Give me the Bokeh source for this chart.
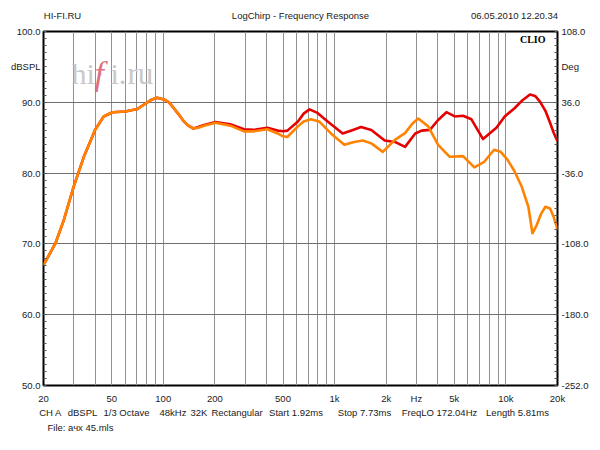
from bokeh.plotting import figure
from bokeh.models import FixedTicker, LinearAxis, LogAxis, Range1d, Label, Spacer
from bokeh.layouts import column, row
from bokeh.embed import file_html
from bokeh.resources import INLINE

# ---------------- data ----------------
freq_orange = [20, 23.5, 26.3, 30, 34.4, 40, 44.9, 50.6, 60, 70.6, 80.8, 86, 92, 101, 108, 115, 123, 132, 140, 150,
               160, 173, 202, 246, 296, 338, 405, 465, 500, 530, 611, 660, 726, 812, 952, 1140, 1300, 1460, 1638,
               1912, 2248, 2578, 2850, 3080, 3520, 4020, 4700, 5625, 6540, 7470, 8530, 9320, 10200,
               11200, 12360, 13520, 14280, 15150, 16000, 17000, 18100, 19000, 20000]
spl_orange = [67.0, 70.1, 73.4, 78.1, 82.3, 86.1, 88.0, 88.6, 88.7, 89.05, 90.0, 90.4, 90.65, 90.4, 90.0, 89.2, 88.3, 87.3, 86.7, 86.3,
              86.4, 86.7, 87.1, 86.7, 85.9, 85.9, 86.2, 85.6, 85.2, 85.1, 86.6, 87.3, 87.6, 87.3, 85.6, 84.0, 84.4, 84.6, 84.2,
              83.0, 84.7, 85.65, 87.0, 87.7, 86.6, 84.0, 82.3, 82.4, 80.8, 81.6, 83.3, 83.0, 81.9,
              80.3, 78.1, 75.25, 71.5, 72.7, 74.2, 75.25, 75.0, 73.8, 72.0]

freq_red = [20, 23.5, 26.3, 30, 34.4, 40, 44.9, 50.6, 60, 70.6, 80.8, 86, 92, 101, 108, 115, 123, 132, 140, 150,
            160, 173, 202, 246, 296, 338, 405, 465, 500, 530, 611, 660, 714, 795, 911, 1115, 1280, 1427, 1638,
            1962, 2248, 2578, 2956, 3220, 3600, 4020, 4496, 5030, 5625, 6290, 7350, 8800, 9840,
            11270, 12500, 13820, 14800, 15800, 17000, 18100, 19000, 20000]
spl_red = [67.0, 70.1, 73.4, 78.1, 82.3, 86.1, 88.0, 88.6, 88.7, 89.05, 90.0, 90.4, 90.65, 90.4, 90.0, 89.2, 88.3, 87.3, 86.7, 86.3,
           86.5, 86.8, 87.2, 86.9, 86.2, 86.1, 86.4, 86.0, 85.9, 86.0, 87.3, 88.4, 89.0, 88.5, 87.3, 85.6, 86.1, 86.5, 86.1,
           84.6, 84.4, 83.7, 85.6, 86.0, 86.1, 87.5, 88.6, 88.0, 88.1, 87.6, 84.8, 86.4, 88.0,
           89.2, 90.3, 91.1, 90.9, 90.1, 88.8, 87.1, 85.7, 84.5]

x_ticks = [20, 50, 100, 200, 500, 1000, 2000, 3000, 5000, 10000, 20000]
x_tick_labels = ["20", "50", "100", "200", "500", "1k", "2k", "Hz", "5k", "10k", "20k"]
x_grid = [30, 40, 50, 60, 70, 80, 90, 100, 200, 300, 400, 500, 600, 700, 800, 900,
          1000, 2000, 3000, 4000, 5000, 6000, 7000, 8000, 9000, 10000]
y_ticks = [50, 60, 70, 80, 90, 95, 100]
y_tick_labels = ["50.0", "60.0", "70.0", "80.0", "90.0", "dBSPL", "100.0"]
deg_ticks = [-252, -180, -108, -36, 36, 72, 108]
deg_tick_labels = ["-252.0", "-180.0", "-108.0", "-36.0", "36.0", "Deg", "108.0"]

header_texts = ["HI-FI.RU", "LogChirp - Frequency Response", "06.05.2010 12.20.34"]
header_px = [62, 300, 514]          # text centres, page pixels
info_items = ["CH A", "dBSPL", "1/3 Octave", "48kHz", "32K", "Rectangular",
              "Start 1.92ms", "Stop 7.73ms", "FreqLO 172.04Hz", "Length 5.81ms"]
info_px = [50.0, 82.0, 126.0, 172.5, 198.5, 236.5, 295.5, 364.0, 439.0, 517.0]
file_text = ["File: ачх 45.mls"]
file_px = [80.0]

FONT = "Liberation Sans"
FS = "9.5px"
TXT = "#1a1a1a"

FRAME_LEFT, FRAME_W = 43.0, 514.0


def px_to_freq(x):
    return 20 * 10 ** ((x - FRAME_LEFT) / (FRAME_W / 3.0))


p = figure(frame_width=514, frame_height=354, x_axis_type="log", x_range=(20, 20000), y_range=(50, 100),
           output_backend="svg", toolbar_location=None, min_border=0)
p.background_fill_color = "white"
p.border_fill_color = "white"
p.outline_line_color = "black"
p.outline_line_width = 2

# grids
p.xgrid.ticker = FixedTicker(ticks=x_grid)
p.ygrid.ticker = FixedTicker(ticks=[60, 70, 80, 90])
p.xgrid.grid_line_color = "#919191"
p.ygrid.grid_line_color = "#707070"


def style_axis(ax, standoff):
    ax.axis_line_color = None
    ax.major_tick_line_color = None
    ax.minor_tick_line_color = None
    ax.major_tick_in = 0
    ax.major_tick_out = 0
    ax.minor_tick_in = 0
    ax.minor_tick_out = 0
    ax.major_label_standoff = standoff
    ax.major_label_text_font = FONT
    ax.major_label_text_font_size = FS
    ax.major_label_text_color = TXT


# x axis
xa = p.xaxis[0]
xa.ticker = FixedTicker(ticks=x_ticks)
xa.major_label_overrides = {t: l for t, l in zip(x_ticks, x_tick_labels)}
style_axis(xa, 7)


def text_axis(texts, pxs, side, standoff):
    fs = [px_to_freq(x) for x in pxs]
    ax = LogAxis(ticker=FixedTicker(ticks=fs))
    ax.major_label_overrides = {f: t for f, t in zip(fs, texts)}
    style_axis(ax, standoff)
    p.add_layout(ax, side)
    return ax


text_axis(info_items, info_px, "below", 0)
text_axis(file_text, file_px, "below", 1)
text_axis(header_texts, header_px, "above", 11)

# left axis
ya = p.yaxis[0]
style_axis(ya, 3)
ya.ticker = FixedTicker(ticks=y_ticks, minor_ticks=list(range(50, 101)))
ya.major_label_overrides = {t: l for t, l in zip(y_ticks, y_tick_labels)}
ya.minor_tick_in = 3
ya.minor_tick_line_color = "#555555"

# right axis (degrees)
p.extra_y_ranges = {"deg": Range1d(-252, 108)}
ra = LinearAxis(y_range_name="deg",
                ticker=FixedTicker(ticks=deg_ticks, minor_ticks=[-252 + 7.2 * k for k in range(51)]))
style_axis(ra, 4)
ra.major_label_overrides = {t: l for t, l in zip(deg_ticks, deg_tick_labels)}
ra.minor_tick_in = 3
ra.minor_tick_line_color = "#555555"
p.add_layout(ra, "right")

# curves
p.line(freq_red, spl_red, line_color="#e60000", line_width=2.6, line_join="round")
p.line(freq_orange, spl_orange, line_color="#ff8200", line_width=2.6, line_join="round")


def add_label(x, y, text, align="left", baseline="middle", font=FONT, size=FS, color=TXT, style="normal"):
    p.add_layout(Label(x=x, y=y, x_units="screen", y_units="screen", text=text,
                       text_align=align, text_baseline=baseline, text_font=font,
                       text_font_size=size, text_color=color, text_font_style=style))


# CLIO mark and watermark (frame-relative screen units)
add_label(502, 345.7, "CLIO", align="right", font="Liberation Serif", size="10px", color="black", style="bold")
add_label(28, 311.7, "hi·", baseline="alphabetic", font="Liberation Serif", size="30px", color="#c9c9c9")
add_label(51, 311.7, "f", baseline="alphabetic", font="Liberation Serif", size="34px", color="#e07080", style="italic")
add_label(67, 311.7, "i.", baseline="alphabetic", font="Liberation Serif", size="30px", color="#c9c9c9")
add_label(84, 311.7, "ru", baseline="alphabetic", font="Liberation Serif", size="31px", color="#c9c9c9")

layout = column(Spacer(height=6), row(Spacer(width=7), p))
open("out.html", "w").write(file_html(layout, INLINE))
